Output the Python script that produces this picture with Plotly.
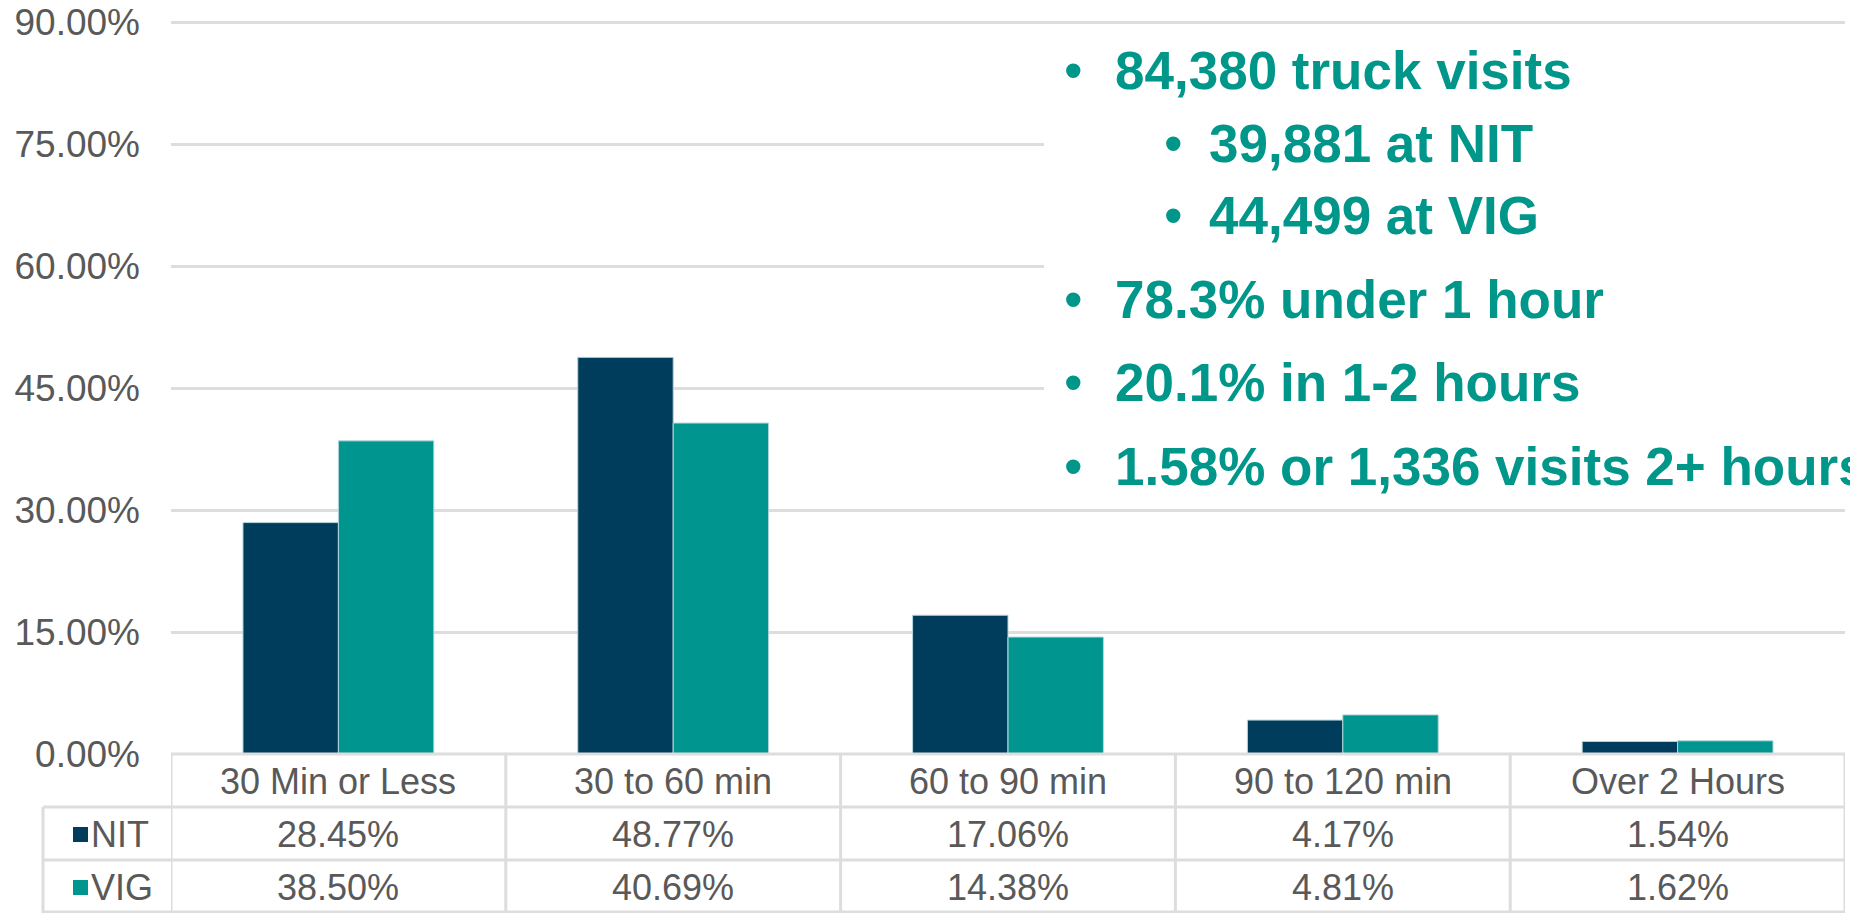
import plotly.graph_objects as go

categories = ["30 Min or Less", "30 to 60 min", "60 to 90 min", "90 to 120 min", "Over 2 Hours"]
series_names = ["NIT", "VIG"]
nit_values = [28.45, 48.77, 17.06, 4.17, 1.54]
vig_values = [38.50, 40.69, 14.38, 4.81, 1.62]
y_ticks = [0, 15, 30, 45, 60, 75, 90]
y_tick_labels = ["0.00%", "15.00%", "30.00%", "45.00%", "60.00%", "75.00%", "90.00%"]
bullets = [
    ("84,380 truck visits", 0),
    ("39,881 at NIT", 1),
    ("44,499 at VIG", 1),
    ("78.3% under 1 hour", 0),
    ("20.1% in 1-2 hours", 0),
    ("1.58% or 1,336 visits 2+ hours", 0),
]

W, H = 1850, 913
NIT_COLOR = "#003C5C"
VIG_COLOR = "#00968F"
TEXT_TEAL = "#00968A"
GRID = "#DDDDDD"
GRAY_TEXT = "#595959"
FONT = "Liberation Sans, Arial, sans-serif"

def px_x(x):
    return x / W

def px_y(y):
    return (H - y) / H

x_left, x_right = 171, 1845
y_zero, y_ninety = 754, 22
ppu = (y_zero - y_ninety) / 90.0
y_top_val = 92
y_top_px = y_zero - y_top_val * ppu

fig = go.Figure()
fig.add_trace(go.Bar(x=categories, y=nit_values, name=series_names[0],
                     marker=dict(color=NIT_COLOR, line=dict(color="#B5D6DC", width=1))))
fig.add_trace(go.Bar(x=categories, y=vig_values, name=series_names[1],
                     marker=dict(color=VIG_COLOR, line=dict(color="#B5D6DC", width=1))))

shapes = []
annotations = []

# white panel behind the bullet text (hides the gridlines there)
shapes.append(dict(type="rect", xref="paper", yref="paper", layer="above",
                   x0=px_x(1044), x1=1.0, y0=px_y(492), y1=px_y(38),
                   fillcolor="white", line=dict(width=0)))

lw = 3
shapes.append(dict(type="line", xref="paper", yref="paper", x0=px_x(x_left), x1=px_x(x_right),
                   y0=px_y(y_zero), y1=px_y(y_zero), line=dict(color=GRID, width=lw)))
for yy in [807, 860, 912]:
    shapes.append(dict(type="line", xref="paper", yref="paper", x0=px_x(43), x1=px_x(x_right),
                       y0=px_y(yy), y1=px_y(yy), line=dict(color=GRID, width=lw)))
shapes.append(dict(type="line", xref="paper", yref="paper", x0=px_x(43), x1=px_x(43),
                   y0=px_y(807), y1=0, line=dict(color=GRID, width=lw)))
for i in range(len(categories) + 1):
    shapes.append(dict(type="line", xref="x", yref="paper", x0=i - 0.5, x1=i - 0.5,
                       y0=px_y(y_zero), y1=0, line=dict(color=GRID, width=lw)))

row_y = {"hdr": 781, "NIT": 834, "VIG": 887}
cell_font = dict(family=FONT, size=36, color=GRAY_TEXT)
for i, c in enumerate(categories):
    annotations.append(dict(x=c, xref="x", y=px_y(row_y["hdr"]), yref="paper", text=c,
                            yanchor="middle", showarrow=False, font=cell_font))
    annotations.append(dict(x=c, xref="x", y=px_y(row_y["NIT"]), yref="paper",
                            text=f"{nit_values[i]:.2f}%", yanchor="middle", showarrow=False,
                            font=cell_font))
    annotations.append(dict(x=c, xref="x", y=px_y(row_y["VIG"]), yref="paper",
                            text=f"{vig_values[i]:.2f}%", yanchor="middle", showarrow=False,
                            font=cell_font))

for name, color in zip(series_names, [NIT_COLOR, VIG_COLOR]):
    cy = row_y[name]
    shapes.append(dict(type="rect", xref="paper", yref="paper", x0=px_x(73), x1=px_x(88),
                       y0=px_y(cy + 8), y1=px_y(cy - 7), fillcolor=color, line=dict(width=0)))
    annotations.append(dict(x=px_x(89), xref="paper", y=px_y(cy), yref="paper", text=name,
                            xanchor="left", yanchor="middle", showarrow=False, font=cell_font))

line_y = [71, 144, 216, 299, 383, 466]
for (txt, lvl), yy in zip(bullets, line_y):
    bx = 1062 if lvl == 0 else 1162
    tx = 1113 if lvl == 0 else 1207
    annotations.append(dict(x=px_x(bx), xref="paper", y=px_y(yy), yref="paper", text="•",
                            xanchor="left", yanchor="middle", showarrow=False,
                            font=dict(family=FONT, size=53, color=TEXT_TEAL)))
    annotations.append(dict(x=px_x(tx), xref="paper", y=px_y(yy), yref="paper",
                            text=f"<b>{txt}</b>", xanchor="left", yanchor="middle",
                            showarrow=False,
                            font=dict(family=FONT, size=53, color=TEXT_TEAL)))

fig.update_layout(
    width=W, height=H,
    margin=dict(l=0, r=0, t=0, b=0, autoexpand=False),
    paper_bgcolor="white", plot_bgcolor="white",
    showlegend=False,
    barmode="group", bargap=0.43, bargroupgap=0,
    xaxis=dict(domain=[px_x(x_left), px_x(x_right)], showticklabels=False,
               showgrid=False, zeroline=False, showline=False, ticks="",
               automargin=False, range=[-0.5, len(categories) - 0.5]),
    yaxis=dict(domain=[px_y(y_zero), px_y(y_top_px)], range=[0, y_top_val],
               tickvals=y_ticks, ticktext=y_tick_labels, showgrid=True,
               gridcolor=GRID, gridwidth=3, zeroline=False, showline=False,
               ticks="", ticklabelstandoff=30, automargin=False,
               tickfont=dict(family=FONT, size=37, color=GRAY_TEXT)),
    shapes=shapes,
    annotations=annotations,
)

post = "document.body.style.margin='0';document.documentElement.style.overflow='hidden';"
fig.write_html("out.html", config={"displayModeBar": False}, post_script=post)
